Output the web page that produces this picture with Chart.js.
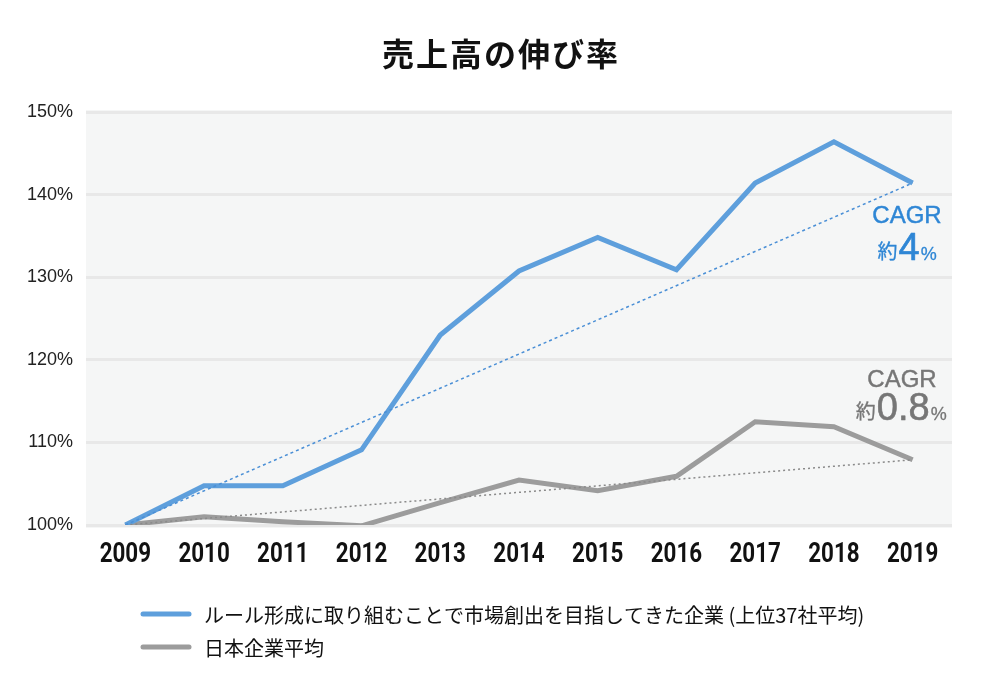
<!DOCTYPE html>
<html>
<head>
<meta charset="utf-8">
<script src="https://cdn.jsdelivr.net/npm/chart.js@4.4.1/dist/chart.umd.min.js"></script>
<style>
  html, body { margin: 0; padding: 0; background: #ffffff; }
  #wrap { width: 1000px; height: 680px; position: relative; }
</style>
</head>
<body>
<div id="wrap"><canvas id="c" width="1000" height="680"></canvas></div>
<script>
// ---- data ----
const titleText = '売上高の伸び率';
const years = ['2009','2010','2011','2012','2013','2014','2015','2016','2017','2018','2019'];
const ruleMakers = [100, 104.75, 104.75, 109.1, 123.0, 130.75, 134.8, 130.9, 141.4, 146.4, 141.4];
const japanAvg = [100, 101.0, 100.4, 99.9, 102.7, 105.45, 104.15, 105.9, 112.5, 111.9, 107.9];
const ruleTrend = [100, null, null, null, null, null, null, null, null, null, 141.4];
const japanTrend = [100, null, null, null, null, null, null, null, null, null, 107.9];
const seriesNames = ['ルール形成に取り組むことで市場創出を目指してきた企業 (上位37社平均)', '日本企業平均'];
const cagrLabels = [['CAGR', '約', '4', '%'], ['CAGR', '約', '0.8', '%']];
const yTicks = [100, 110, 120, 130, 140, 150];

const BLUE = '#5e9fdc';
const GRAY = '#9c9c9c';
const JP = '"Noto Sans CJK JP", "Noto Sans", sans-serif';
const LAT = '"Liberation Sans", Arial, ';

const bgPlugin = {
  id: 'bg',
  beforeDraw(chart) {
    const { ctx, chartArea: a } = chart;
    ctx.save();
    ctx.fillStyle = '#f5f6f6';
    ctx.fillRect(a.left, a.top - 2, a.right - a.left, a.bottom - a.top + 5);
    ctx.restore();
  }
};

function heavyText(ctx, t, x, y, w) {
  ctx.lineWidth = w;
  ctx.strokeStyle = ctx.fillStyle;
  ctx.lineJoin = 'round';
  ctx.strokeText(t, x, y);
  ctx.fillText(t, x, y);
}

const decorPlugin = {
  id: 'decor',
  afterDraw(chart) {
    const { ctx, chartArea: a } = chart;
    const xs = chart.scales.x;
    ctx.save();
    // title
    ctx.fillStyle = '#111';
    ctx.font = '700 32px ' + JP;
    ctx.textAlign = 'center';
    ctx.textBaseline = 'middle';
    ctx.letterSpacing = '2px';
    ctx.fillText(titleText, 501, 54);
    ctx.letterSpacing = '0px';

    // x category labels (condensed bold)
    ctx.fillStyle = '#111';
    ctx.font = '700 28px Roboto, ' + LAT + 'sans-serif';
    ctx.textAlign = 'center';
    ctx.textBaseline = 'middle';
    chart.data.labels.forEach((lab, i) => {
      ctx.save();
      ctx.translate(xs.getPixelForValue(i), a.bottom + 30);
      ctx.scale(0.8, 1);
      ctx.fillText(lab, 0, 0);
      ctx.restore();
    });

    // CAGR annotations
    const lastX = xs.getPixelForValue(years.length - 1);
    const drawCagr = (lab, color, capRight, capY, rowRight, rowBase) => {
      ctx.fillStyle = color;
      ctx.textAlign = 'right';
      ctx.textBaseline = 'middle';
      ctx.font = '400 24px ' + LAT + JP;
      heavyText(ctx, lab[0], capRight, capY, 0.45);
      ctx.textBaseline = 'alphabetic';
      let x = rowRight;
      ctx.font = '400 18px ' + LAT + JP;
      heavyText(ctx, lab[3], x, rowBase, 0.3);
      x -= ctx.measureText(lab[3]).width + 1;
      ctx.font = '400 38px ' + LAT + JP;
      heavyText(ctx, lab[2], x, rowBase, 0.6);
      x -= ctx.measureText(lab[2]).width + 1;
      ctx.font = '400 20px ' + JP;
      heavyText(ctx, lab[1], x, rowBase - 1, 0.3);
    };
    drawCagr(cagrLabels[0], '#2e86d5', lastX + 29, 216, lastX + 24, 260);
    drawCagr(cagrLabels[1], '#767676', lastX + 24, 380, lastX + 34, 420);

    // legend
    const colors = [BLUE, GRAY];
    const rows = [614, 647];
    for (let i = 0; i < 2; i++) {
      ctx.strokeStyle = colors[i];
      ctx.lineWidth = 5;
      ctx.lineCap = 'round';
      ctx.beginPath();
      ctx.moveTo(143, rows[i]);
      ctx.lineTo(189, rows[i]);
      ctx.stroke();
      ctx.fillStyle = '#111';
      ctx.font = '400 20px ' + JP;
      ctx.textAlign = 'left';
      ctx.textBaseline = 'middle';
      ctx.fillText(seriesNames[i], 204, rows[i] + 1);
    }
    ctx.restore();
  }
};

new Chart(document.getElementById('c'), {
  type: 'line',
  data: {
    labels: years,
    datasets: [
      { label: 'trend1', data: ruleTrend, borderColor: '#4a8fd6', borderWidth: 1.5, borderDash: [3, 3], spanGaps: true, pointRadius: 0, order: 0 },
      { label: 'trend2', data: japanTrend, borderColor: '#8a8a8a', borderWidth: 1.5, borderDash: [2, 3], spanGaps: true, pointRadius: 0, order: 0 },
      { label: seriesNames[0], data: ruleMakers, borderColor: BLUE, borderWidth: 5, pointRadius: 0, tension: 0, order: 1 },
      { label: seriesNames[1], data: japanAvg, borderColor: GRAY, borderWidth: 5, pointRadius: 0, tension: 0, order: 2 }
    ]
  },
  options: {
    responsive: false,
    animation: false,
    devicePixelRatio: 1,
    layout: { padding: { left: 0, right: 48, top: 112, bottom: 100 } },
    plugins: { legend: { display: false }, title: { display: false }, tooltip: { enabled: false } },
    scales: {
      x: {
        offset: true,
        grid: { display: false, drawTicks: false },
        border: { display: false },
        ticks: { display: false },
        afterFit(s) { s.height = 55; }
      },
      y: {
        min: 100, max: 150,
        afterBuildTicks(s) { s.ticks = yTicks.map(v => ({ value: v })); },
        grid: { color: '#e8e8e8', lineWidth: 3, drawTicks: false },
        border: { display: false },
        ticks: { color: '#222', padding: 13, font: { family: '"Liberation Sans", Arial', size: 18 }, callback: v => v + '%' },
        afterFit(s) { s.width = 86; }
      }
    }
  },
  plugins: [bgPlugin, decorPlugin]
});
</script>
</body>
</html>
